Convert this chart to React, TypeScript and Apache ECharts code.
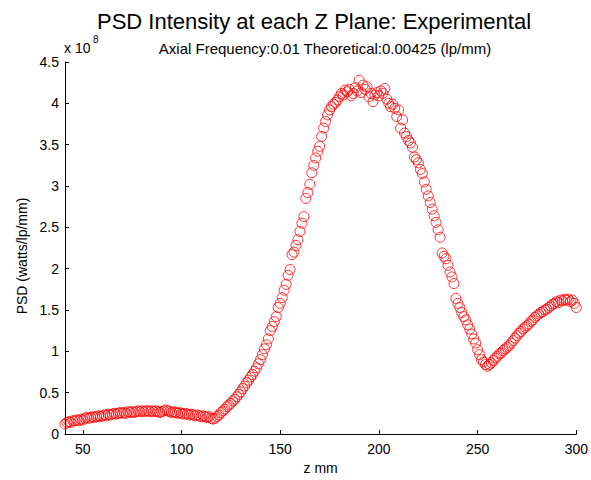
import React, { useEffect, useRef } from "react";
import * as echarts from "echarts";

const titleText = "PSD Intensity at each Z Plane: Experimental";
const subtitleText = "Axial Frequency:0.01 Theoretical:0.00425 (lp/mm)";
const xLabel = "z mm";
const yLabel = "PSD (watts/lp/mm)";
const yScaleExp = "8";

const xTicks = [50, 100, 150, 200, 250, 300];
const zStart = 41;
// PSD values in units of 1e8, one per mm from z = 41 to z = 300
const psd = [
  0.12, 0.14, 0.15, 0.14, 0.16, 0.16, 0.17, 0.16, 0.18, 0.17,
  0.19, 0.2, 0.19, 0.2, 0.21, 0.2, 0.21, 0.22, 0.21, 0.22,
  0.23, 0.22, 0.24, 0.23, 0.24, 0.25, 0.24, 0.25, 0.26, 0.25,
  0.26, 0.25, 0.27, 0.26, 0.27, 0.26, 0.27, 0.28, 0.27, 0.28,
  0.27, 0.28, 0.28, 0.27, 0.28, 0.27, 0.28, 0.27, 0.26, 0.27,
  0.28, 0.29, 0.28, 0.27, 0.26, 0.27, 0.26, 0.25, 0.26, 0.25,
  0.24, 0.25, 0.24, 0.23, 0.24, 0.23, 0.22, 0.23, 0.22, 0.21,
  0.22, 0.21, 0.2, 0.21, 0.19, 0.18, 0.19, 0.21, 0.23, 0.26,
  0.28, 0.3, 0.33, 0.35, 0.37, 0.4, 0.42, 0.45, 0.48, 0.51,
  0.55, 0.58, 0.62, 0.65, 0.69, 0.72, 0.76, 0.8, 0.85, 0.9,
  0.96, 1.03, 1.08, 1.15, 1.25, 1.3, 1.36, 1.42, 1.53, 1.58,
  1.65, 1.74, 1.81, 1.92, 1.99, 2.17, 2.2, 2.28, 2.35, 2.45,
  2.55, 2.63, 2.85, 2.92, 3.02, 3.16, 3.25, 3.34, 3.42, 3.48,
  3.6, 3.7, 3.78, 3.86, 3.92, 3.96, 3.99, 4.01, 4.04, 4.08,
  4.12, 4.1, 4.16, 4.14, 4.17, 4.09, 4.12, 4.19, 4.15, 4.28,
  4.13, 4.22, 4.17, 4.2, 4.08, 4.12, 4.02, 4.1, 4.13, 4.09,
  4.15, 4.12, 4.18, 4.05, 4.0, 3.96, 3.99, 3.94, 3.84, 3.92,
  3.7, 3.8, 3.64, 3.6, 3.55, 3.52, 3.47, 3.35, 3.32, 3.28,
  3.2, 3.15, 3.05, 2.96, 2.88, 2.8, 2.72, 2.64, 2.56, 2.47,
  2.38, 2.19, 2.15, 2.12, 2.04, 1.96, 1.9, 1.82, 1.64, 1.58,
  1.53, 1.47, 1.42, 1.38, 1.32, 1.27, 1.21, 1.15, 1.1, 1.02,
  0.96, 0.9, 0.87, 0.84, 0.82, 0.84, 0.86, 0.89, 0.92, 0.94,
  0.97, 0.98, 1.01, 1.03, 1.05, 1.07, 1.1, 1.13, 1.16, 1.19,
  1.22, 1.24, 1.27, 1.29, 1.31, 1.33, 1.36, 1.38, 1.41, 1.43,
  1.45, 1.47, 1.48, 1.5, 1.51, 1.53, 1.55, 1.57, 1.58, 1.6,
  1.59, 1.62, 1.61, 1.63, 1.62, 1.63, 1.6, 1.62, 1.58, 1.53,
];

const FONT = "'Liberation Sans', Arial, sans-serif";

export default function App() {
  const ref = useRef<HTMLDivElement>(null);
  useEffect(() => {
    if (!ref.current) return;
    const chart = echarts.init(ref.current, null, { renderer: "svg" });
    const points = psd.map((v, i) => [zStart + i, v]);
    chart.setOption({
      animation: false,
      backgroundColor: "#ffffff",
      textStyle: { fontFamily: FONT },
      title: [
        {
          text: titleText,
          left: 309,
          top: 5,
          textAlign: "center",
          textStyle: { fontFamily: FONT, fontSize: 22, fontWeight: "normal", color: "#000" },
        },
        {
          text: subtitleText,
          left: 320,
          top: 36,
          textAlign: "center",
          textStyle: { fontFamily: FONT, fontSize: 15, fontWeight: "normal", color: "#000" },
        },
      ],
      graphic: [
        {
          type: "text",
          left: 64,
          top: 41,
          style: { text: "x 10", font: `14px ${FONT}`, fill: "#000" },
        },
        {
          type: "text",
          left: 93,
          top: 34,
          style: { text: yScaleExp, font: `10px ${FONT}`, fill: "#000" },
        },
        {
          type: "text",
          x: 22,
          y: 256,
          rotation: Math.PI / 2,
          style: {
            text: yLabel,
            font: `14px ${FONT}`,
            fill: "#000",
            align: "center",
            verticalAlign: "middle",
          },
        },
      ],
      grid: { left: 65, right: 12, top: 62, bottom: 45, containLabel: false },
      xAxis: {
        type: "value",
        min: zStart,
        max: 300,
        name: xLabel,
        nameLocation: "middle",
        nameGap: 27,
        nameTextStyle: { fontFamily: FONT, fontSize: 14, color: "#000" },
        axisLine: { show: true, lineStyle: { color: "#000", width: 1 } },
        axisTick: { show: true, inside: true, length: 4, customValues: xTicks, lineStyle: { color: "#000" } },
        axisLabel: { customValues: xTicks, fontFamily: FONT, fontSize: 14, color: "#000", margin: 8 },
        splitLine: { show: false },
      },
      yAxis: {
        type: "value",
        min: 0,
        max: 4.5,
        interval: 0.5,
        axisLine: { show: true, lineStyle: { color: "#000", width: 1 } },
        axisTick: { show: true, inside: true, length: 4, lineStyle: { color: "#000" } },
        axisLabel: { fontFamily: FONT, fontSize: 14, color: "#000", margin: 6 },
        splitLine: { show: false },
      },
      series: [
        {
          type: "scatter",
          data: points,
          symbol: "circle",
          symbolSize: 10,
          itemStyle: { color: "rgba(0,0,0,0)", borderColor: "#ff0000", borderWidth: 1 },
          emphasis: { disabled: true },
        },
      ],
    });
    return () => chart.dispose();
  }, []);
  return (
    <div
      ref={ref}
      style={{ position: "fixed", left: 0, top: 0, width: 591, height: 480, background: "#fff" }}
    />
  );
}
